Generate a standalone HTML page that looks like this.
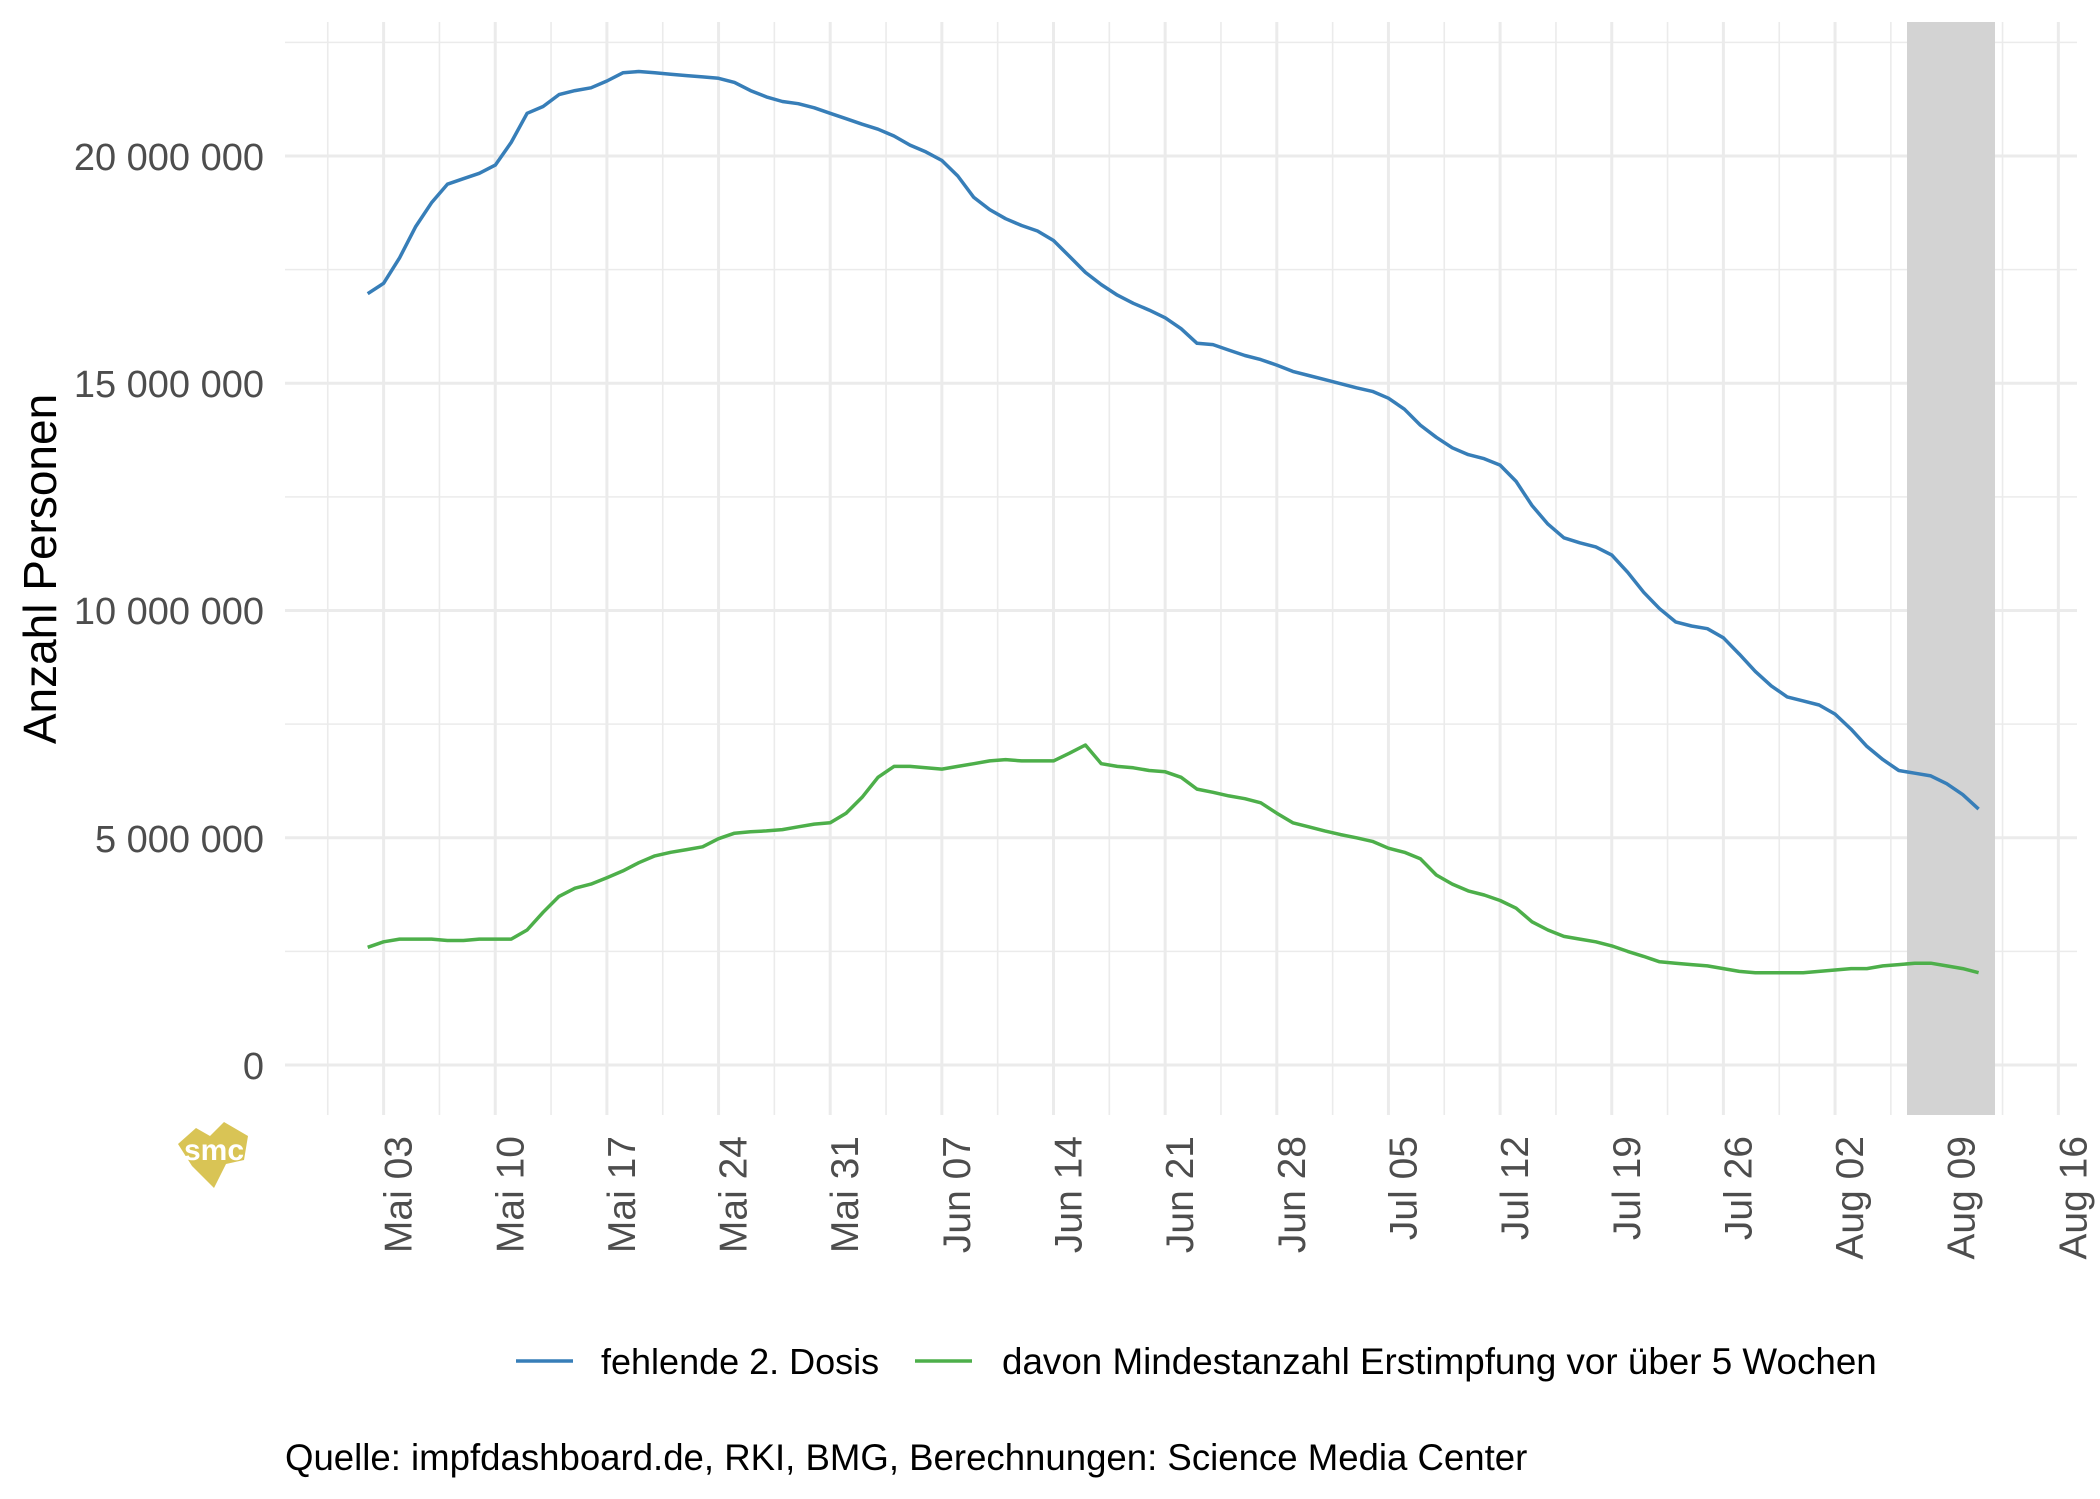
<!DOCTYPE html>
<html><head><meta charset="utf-8"><style>
html,body{margin:0;padding:0;background:#fff;}
svg{display:block;font-family:"Liberation Sans",Arial,sans-serif;}
</style></head><body>
<svg id="s" width="2100" height="1499" viewBox="0 0 2100 1499" xmlns="http://www.w3.org/2000/svg">
<rect width="2100" height="1499" fill="#fff"/>
<g id="grid"></g>
<rect x="1907" y="22" width="88" height="1093" fill="#d3d3d3"/>
<g id="lines"></g>
<g font-size="38" fill="#4d4d4d" text-anchor="end">
<text x="264" y="170">20 000 000</text>
<text x="264" y="397">15 000 000</text>
<text x="264" y="624">10 000 000</text>
<text x="264" y="852">5 000 000</text>
<text x="264" y="1079">0</text>
</g>
<text transform="translate(56,569) rotate(-90)" font-size="46" text-anchor="middle" fill="#000">Anzahl Personen</text>
<g id="xl" font-size="39" fill="#4d4d4d" text-anchor="end"></g>
<g transform="translate(214,1150)">
<polygon points="-36,-6 -18,-22 -4,-14 10,-28 34,-14 30,10 12,14 0,38 -22,16" fill="#d9c455"/>
<text x="0" y="10" font-size="30" font-weight="bold" fill="#fff" text-anchor="middle">smc</text>
</g>
<line x1="516" y1="1361" x2="573" y2="1361" stroke="#377eb8" stroke-width="3.5"/>
<text x="601" y="1374" font-size="36" fill="#000">fehlende 2. Dosis</text>
<line x1="915" y1="1361" x2="972" y2="1361" stroke="#4daf4a" stroke-width="3.5"/>
<text x="1002" y="1374" font-size="36.8" fill="#000">davon Mindestanzahl Erstimpfung vor über 5 Wochen</text>
<text x="285" y="1470" font-size="36.6" fill="#000">Quelle: impfdashboard.de, RKI, BMG, Berechnungen: Science Media Center</text>
</svg>
<script>
var NS="http://www.w3.org/2000/svg";
function el(t,a,p){var e=document.createElementNS(NS,t);for(var k in a)e.setAttribute(k,a[k]);if(p)p.appendChild(e);return e;}
var g=document.getElementById('grid');
var X=function(d){return 383.6+15.95*d;};
var Y=function(m){return 1065-m*45.45;};
for(var i=0;i<=9;i++){var m=i*2.5;el('line',{x1:285,x2:2077,y1:Y(m),y2:Y(m),stroke:'#ebebeb','stroke-width':(i%2?1.6:3)},g);}
for(var d=-3.5;d<=105;d+=3.5){var maj=(Math.round(d*2)%14===0);el('line',{x1:X(d),x2:X(d),y1:22,y2:1115,stroke:'#ebebeb','stroke-width':(maj?3:1.6)},g);}
var labs=["Mai 03","Mai 10","Mai 17","Mai 24","Mai 31","Jun 07","Jun 14","Jun 21","Jun 28","Jul 05","Jul 12","Jul 19","Jul 26","Aug 02","Aug 09","Aug 16"];
var xl=document.getElementById('xl');
labs.forEach(function(l,i){var x=X(i*7)+28;var t=el('text',{transform:'translate('+x+',1136) rotate(-90)'},xl);t.textContent=l;});
var blue=[16.97,17.2,17.76,18.44,18.97,19.38,19.5,19.62,19.8,20.3,20.94,21.09,21.35,21.44,21.5,21.65,21.83,21.86,21.83,21.8,21.77,21.74,21.71,21.62,21.44,21.3,21.2,21.15,21.06,20.94,20.82,20.7,20.59,20.44,20.24,20.09,19.9,19.56,19.09,18.82,18.62,18.47,18.35,18.14,17.79,17.44,17.17,16.94,16.76,16.61,16.44,16.2,15.88,15.85,15.73,15.61,15.52,15.4,15.26,15.17,15.08,14.99,14.9,14.82,14.67,14.43,14.08,13.81,13.58,13.43,13.34,13.2,12.84,12.31,11.9,11.6,11.49,11.4,11.22,10.84,10.4,10.04,9.75,9.66,9.6,9.4,9.04,8.66,8.34,8.1,8.01,7.92,7.72,7.39,7.01,6.72,6.48,6.42,6.36,6.19,5.95,5.63];
var green=[2.59,2.71,2.77,2.77,2.77,2.74,2.74,2.77,2.77,2.77,2.97,3.36,3.71,3.89,3.98,4.12,4.27,4.45,4.6,4.68,4.74,4.8,4.98,5.1,5.13,5.15,5.18,5.24,5.3,5.33,5.54,5.89,6.33,6.57,6.57,6.54,6.51,6.57,6.63,6.69,6.72,6.69,6.69,6.69,6.86,7.04,6.63,6.57,6.54,6.48,6.45,6.33,6.07,6.0,5.92,5.86,5.77,5.54,5.33,5.24,5.15,5.07,5.0,4.92,4.77,4.68,4.54,4.18,3.98,3.83,3.74,3.62,3.45,3.15,2.97,2.83,2.77,2.71,2.62,2.5,2.39,2.27,2.24,2.21,2.18,2.12,2.06,2.03,2.03,2.03,2.03,2.06,2.09,2.12,2.12,2.18,2.21,2.24,2.24,2.18,2.12,2.03];
var L=document.getElementById('lines');
function pl(arr,c){var p=arr.map(function(v,i){return X(i-1).toFixed(1)+','+Y(v).toFixed(1);}).join(' ');el('polyline',{points:p,fill:'none',stroke:c,'stroke-width':3.5,'stroke-linejoin':'round'},L);}
pl(blue,'#377eb8');pl(green,'#4daf4a');
</script>
</body></html>
